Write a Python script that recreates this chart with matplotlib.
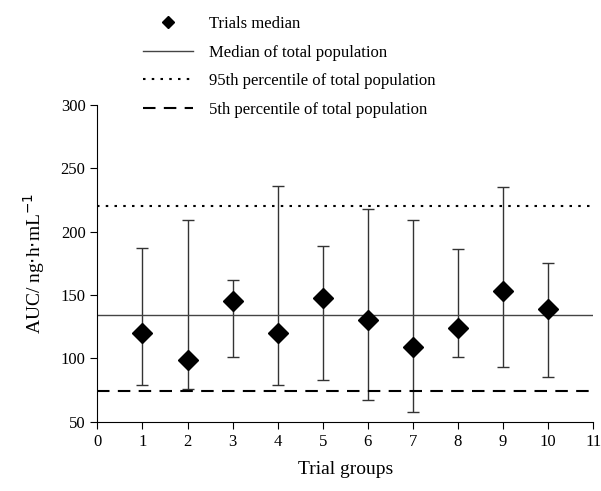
import numpy as np
import matplotlib.pyplot as plt
from matplotlib.lines import Line2D

plt.rcParams['font.family'] = ['Liberation Serif', 'DejaVu Serif']

# dati
gruppi = [1, 2, 3, 4, 5, 6, 7, 8, 9, 10]
mediane = [120, 99, 145, 120, 148, 130, 109, 124, 153, 139]
superiori = [187, 209, 162, 236, 189, 218, 209, 186, 235, 175]
inferiori = [79, 76, 101, 79, 83, 67, 58, 101, 93, 85]

mediana_tot = 134
p95_tot = 220
p5_tot = 74

fig = plt.figure(figsize=(6.01, 4.91), dpi=100)
ax = fig.add_axes([0.162, 0.141, 0.825, 0.645])

med = np.array(mediane)
err = [med - np.array(inferiori), np.array(superiori) - med]
ax.errorbar(gruppi, mediane, yerr=err, fmt='none', ecolor='#333333',
            elinewidth=1.0, capsize=4.5, capthick=1.0)
ax.plot(gruppi, mediane, 'D', color='black', ms=10, zorder=3)

ax.axhline(mediana_tot, color='#444444', lw=1.0)
ax.axhline(p95_tot, color='black', lw=1.5, ls=(0, (1.2, 3)))
ax.axhline(p5_tot, color='black', lw=1.5, ls=(0, (6, 4)))

ax.set_xlim(0, 11)
ax.set_ylim(50, 300)
ax.set_xticks(range(0, 12))
ax.set_yticks(range(50, 301, 50))
ax.spines['top'].set_visible(False)
ax.spines['right'].set_visible(False)
ax.tick_params(direction='out', length=5, labelsize=12)

ax.set_xlabel('Trial groups', fontsize=14, labelpad=8)
ax.set_ylabel('AUC/ ng$\\cdot$h$\\cdot$mL$^{-1}$', fontsize=14, labelpad=10)

maniglie = [
    Line2D([], [], ls='none', marker='D', color='black', ms=6),
    Line2D([], [], color='#444444', lw=1.0),
    Line2D([], [], color='black', lw=1.5, ls=(0, (1.2, 3))),
    Line2D([], [], color='black', lw=1.5, ls=(0, (6, 4))),
]
etichette = ['Trials median', 'Median of total population',
             '95th percentile of total population', '5th percentile of total population']
fig.legend(maniglie, etichette, loc='upper left', bbox_to_anchor=(0.238, 0.967),
           frameon=False, fontsize=12, handlelength=3.0, handletextpad=0.95,
           labelspacing=0.75, borderpad=0, borderaxespad=0)

fig.savefig('out.png', dpi=100)
